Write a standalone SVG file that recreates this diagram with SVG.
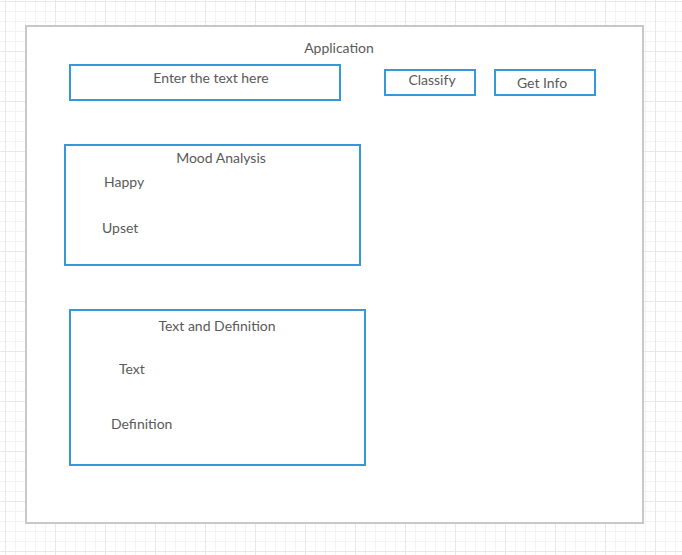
<svg xmlns="http://www.w3.org/2000/svg" width="682" height="555" viewBox="0 0 682 555">
<defs>
<pattern id="grid" x="5" y="1" width="50" height="50" patternUnits="userSpaceOnUse">
<path d="M0 10.5H50M0 20.5H50M0 30.5H50M0 40.5H50M10.5 0V50M20.5 0V50M30.5 0V50M40.5 0V50" stroke="#f3f3f3" stroke-width="1" fill="none"/>
<path d="M0 0.5H50M0.5 0V50" stroke="#e8e8e8" stroke-width="1" fill="none"/>
</pattern>
</defs>
<style>
.box{fill:#ffffff;stroke:#3498db;stroke-width:2}
.t{font-family:Lato,"Liberation Sans",sans-serif;font-size:14px;fill:#5a5a5a}
.c{text-anchor:middle}
</style>
<rect x="0" y="0" width="682" height="555" fill="#ffffff"/>
<rect x="0" y="0" width="682" height="555" fill="url(#grid)"/>
<g id="application">
<rect x="26" y="26" width="617" height="497" fill="#ffffff" stroke="#c8c8c8" stroke-width="2"/>
<text class="t c" x="339" y="53">Application</text>
</g>
<g id="enter-text">
<rect class="box" x="70" y="65" width="270" height="35"/>
<text class="t c" x="211" y="83">Enter the text here</text>
</g>
<g id="classify">
<rect class="box" x="385" y="70" width="90" height="25"/>
<text class="t c" x="432" y="85">Classify</text>
</g>
<g id="get-info">
<rect class="box" x="495" y="70" width="100" height="25"/>
<text class="t c" x="542" y="88">Get Info</text>
</g>
<g id="mood-analysis">
<rect class="box" x="65" y="145" width="295" height="120"/>
<text class="t c" x="221" y="163">Mood Analysis</text>
<text class="t" x="104" y="187">Happy</text>
<text class="t" x="102" y="233">Upset</text>
</g>
<g id="text-definition">
<rect class="box" x="70" y="310" width="295" height="155"/>
<text class="t c" x="217" y="331">Text and Definition</text>
<text class="t" x="119" y="374">Text</text>
<text class="t" x="111" y="429">Definition</text>
</g>
<g id="connectors"></g>
</svg>
